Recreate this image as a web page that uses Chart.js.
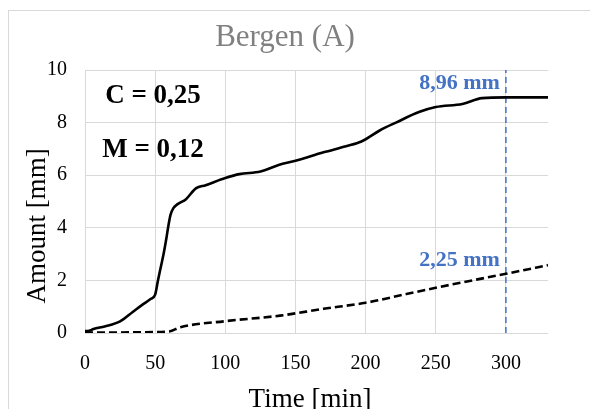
<!DOCTYPE html>
<html>
<head>
<meta charset="utf-8">
<script src="https://cdn.jsdelivr.net/npm/chart.js@4/dist/chart.umd.min.js"></script>
<style>
  html, body { margin: 0; padding: 0; background: #fff; }
  #wrap { position: relative; width: 590px; height: 409px; overflow: hidden; }
  #frame { position: absolute; left: 8px; top: 10px; width: 700px; height: 500px; border: 1px solid #d9d9d9; }
  #chart { position: absolute; left: 0; top: 0; }
</style>
</head>
<body>
<div id="wrap">
  <div id="frame"></div>
  <canvas id="chart" width="590" height="409"></canvas>
</div>
<script>
// cumulative rainfall, Bergen (A)
const timeC = [0, 3, 6, 14, 25, 34, 41, 47, 50, 52, 54, 56, 58, 59.5, 61, 63, 66, 72, 79, 86, 100, 110, 125, 138, 150, 170, 186, 197, 210, 222, 238, 250, 269, 283, 300, 330];
const amountC = [0.07, 0.08, 0.15, 0.25, 0.44, 0.80, 1.08, 1.30, 1.46, 2.0, 2.5, 3.0, 3.6, 4.1, 4.5, 4.75, 4.9, 5.09, 5.50, 5.62, 5.89, 6.04, 6.14, 6.39, 6.55, 6.87, 7.10, 7.28, 7.70, 8.01, 8.40, 8.59, 8.71, 8.93, 8.96, 8.96];

const timeM = [0, 20, 40, 60, 68, 100, 139, 170, 200, 229, 250, 276, 300, 330];
const amountM = [0.02, 0.02, 0.03, 0.06, 0.22, 0.45, 0.66, 0.92, 1.15, 1.48, 1.72, 2.0, 2.25, 2.58];

const markerTime = 300;
const markerValues = [8.96, 2.25];
const markerLabels = ['8,96 mm', '2,25 mm'];

const xTicks = [0, 50, 100, 150, 200, 250, 300];
const yTicks = [0, 2, 4, 6, 8, 10];

const coefLabels = ['C = 0,25', 'M = 0,12'];

const toPoints = (xs, ys) => xs.map((x, i) => ({ x: x, y: ys[i] }));

const serif = '"Liberation Serif", "Times New Roman", serif';
const blue = '#4472c4';

// texts drawn on top: title, axis titles, coefficient box and marker labels
const textPlugin = {
  id: 'texts',
  afterDraw(chart) {
    const ctx = chart.ctx;
    const area = chart.chartArea;
    const xs = chart.scales.x;
    const ys = chart.scales.y;
    ctx.save();

    ctx.fillStyle = '#808080';
    ctx.font = '31px ' + serif;
    ctx.textAlign = 'center';
    ctx.textBaseline = 'alphabetic';
    ctx.fillText('Bergen (A)', 285, 46);

    ctx.fillStyle = '#000';
    ctx.font = '27px ' + serif;
    ctx.fillText('Time [min]', 310, 407);

    ctx.save();
    ctx.translate(45, 226);
    ctx.rotate(-Math.PI / 2);
    ctx.fillText('Amount [mm]', 0, 0);
    ctx.restore();

    ctx.font = 'bold 27px ' + serif;
    ctx.fillText(coefLabels[0], area.left + 68, area.top + 33);
    ctx.fillText(coefLabels[1], area.left + 68, area.top + 87);

    ctx.fillStyle = blue;
    ctx.font = 'bold 22px ' + serif;
    ctx.textAlign = 'right';
    const xp = xs.getPixelForValue(markerTime) - 6;
    markerValues.forEach((v, i) => {
      ctx.fillText(markerLabels[i], xp, ys.getPixelForValue(v) - 8);
    });
    ctx.restore();
  }
};

new Chart(document.getElementById('chart'), {
  type: 'scatter',
  data: {
    datasets: [{
      data: toPoints(timeC, amountC),
      showLine: true,
      borderColor: '#000',
      borderWidth: 2.6,
      pointRadius: 0,
      cubicInterpolationMode: 'monotone'
    }, {
      data: toPoints(timeM, amountM),
      showLine: true,
      borderColor: '#000',
      borderWidth: 2.6,
      borderDash: [8, 4],
      pointRadius: 0,
      cubicInterpolationMode: 'monotone'
    }, {
      data: [{ x: markerTime, y: 0 }, { x: markerTime, y: 10 }],
      showLine: true,
      borderColor: blue,
      borderWidth: 1.5,
      borderDash: [6, 4],
      pointRadius: 0
    }]
  },
  options: {
    responsive: false,
    animation: false,
    devicePixelRatio: 1,
    layout: { padding: { top: 70, right: 42, left: 0, bottom: 0 } },
    plugins: {
      legend: { display: false },
      tooltip: { enabled: false }
    },
    scales: {
      x: {
        type: 'linear',
        min: 0,
        max: 330,
        afterBuildTicks: (s) => { s.ticks = xTicks.map(v => ({ value: v })); },
        ticks: { padding: 19, color: '#000', font: { family: serif, size: 20 } },
        grid: { color: '#d9d9d9', drawTicks: false },
        border: { display: false },
        afterFit: (s) => { s.height = 76; }
      },
      y: {
        min: 0,
        max: 10,
        afterBuildTicks: (s) => { s.ticks = yTicks.map(v => ({ value: v })); },
        ticks: { padding: 18, color: '#000', font: { family: serif, size: 20 } },
        grid: { color: '#d9d9d9', drawTicks: false },
        border: { display: false },
        afterFit: (s) => { s.width = 85; }
      }
    }
  },
  plugins: [textPlugin]
});
</script>
</body>
</html>
